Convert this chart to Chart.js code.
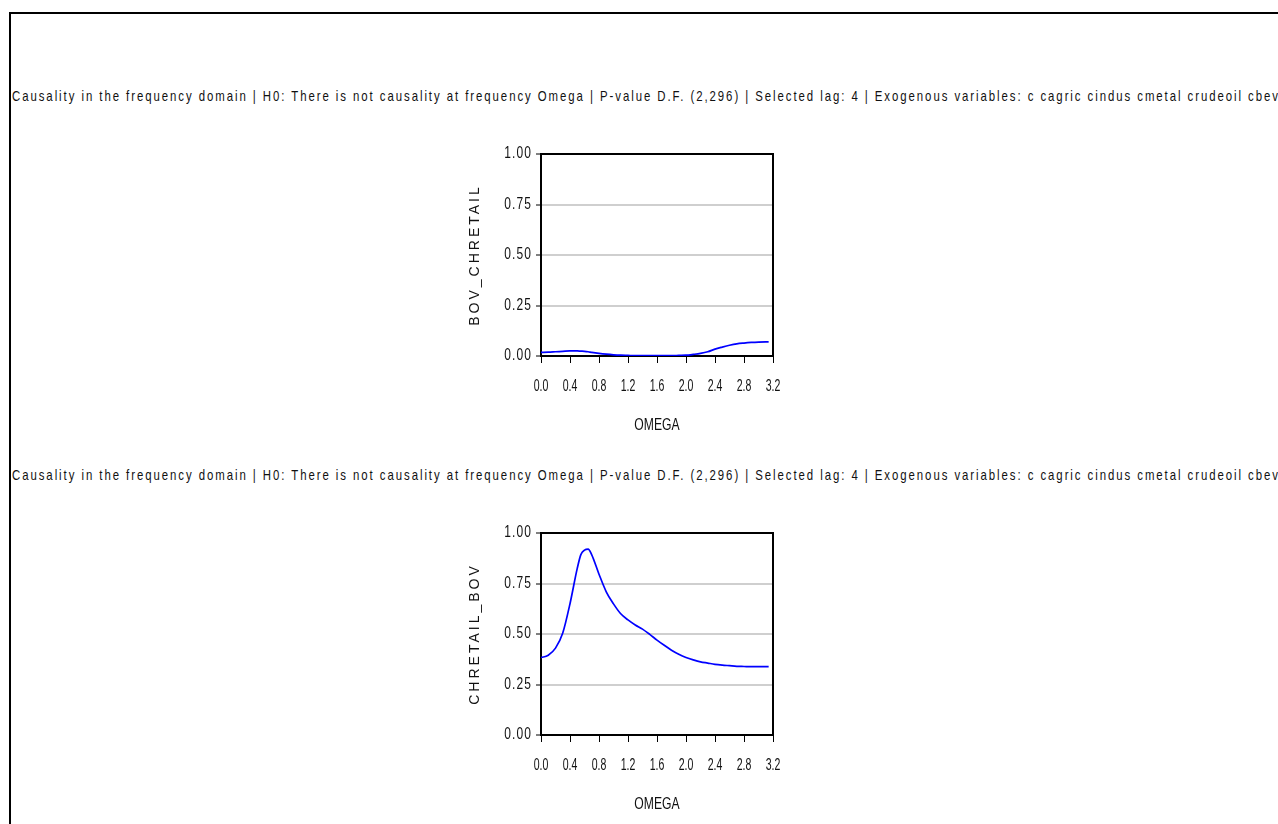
<!DOCTYPE html>
<html>
<head>
<meta charset="utf-8">
<script src="https://cdn.jsdelivr.net/npm/chart.js@4/dist/chart.umd.min.js"></script>
<style>
  html, body { margin: 0; padding: 0; background: #fff; width: 1278px; height: 824px; overflow: hidden; }
  #frame { position: absolute; left: 9px; top: 12px; width: 1400px; height: 900px; border-left: 2px solid #000; border-top: 2px solid #000; }
  .ttl { position: absolute; left: 12px; white-space: nowrap; font-family: "Liberation Sans", Arial, sans-serif; font-size: 15px; line-height: 17px; color: #111; transform-origin: 0 0; }
  .cv { position: absolute; left: 440px; width: 360px; height: 310px; }
</style>
</head>
<body>
<div id="frame"></div>
<div class="ttl" id="t1" style="top:87px"></div>
<div class="ttl" id="t2" style="top:466px"></div>
<div class="cv" style="top:130px"><canvas id="c1" width="360" height="310"></canvas></div>
<div class="cv" style="top:509px"><canvas id="c2" width="360" height="310"></canvas></div>
<script>
// ---- data ----
const headerText = "Causality in the frequency domain | H0: There is not causality at frequency Omega | P-value D.F. (2,296) | Selected lag: 4 | Exogenous variables: c cagric cindus cmetal crudeoil cbev";
const omega = [0.00,0.10,0.20,0.30,0.40,0.50,0.55,0.60,0.65,0.70,0.80,0.90,1.00,1.10,1.20,1.30,1.40,1.50,1.60,1.70,1.80,1.90,2.00,2.10,2.20,2.30,2.40,2.50,2.60,2.70,2.80,2.90,3.00,3.10,3.14];
const bovChretail = [0.018,0.019,0.021,0.023,0.025,0.025,0.024,0.023,0.021,0.018,0.013,0.009,0.006,0.004,0.003,0.002,0.002,0.002,0.002,0.002,0.002,0.003,0.004,0.008,0.013,0.021,0.034,0.044,0.053,0.060,0.064,0.067,0.069,0.070,0.070];
const chretailBov = [0.383,0.395,0.430,0.505,0.650,0.825,0.893,0.915,0.920,0.892,0.796,0.709,0.649,0.600,0.570,0.545,0.524,0.498,0.470,0.444,0.420,0.400,0.384,0.372,0.362,0.356,0.350,0.346,0.343,0.340,0.339,0.338,0.338,0.338,0.338];
const xTickLabels = ["0.0","0.4","0.8","1.2","1.6","2.0","2.4","2.8","3.2"];
const yTickLabels = ["0.00","0.25","0.50","0.75","1.00"];
const xTitle = "OMEGA";
const yTitles = ["BOV_CHRETAIL", "CHRETAIL_BOV"];

const REG = '"Liberation Sans", Arial, sans-serif';

// header lines: condensed look via horizontal scaling, spacing fitted to the width of the frame
(function () {
  const sx = 0.76, targetWidth = 1268;
  const m = document.createElement('canvas').getContext('2d');
  m.font = '15px ' + REG;
  const natural = m.measureText(headerText).width;
  const ls = (targetWidth / sx - natural) / headerText.length;
  ['t1', 't2'].forEach(id => {
    const el = document.getElementById(id);
    el.textContent = headerText;
    el.style.letterSpacing = ls.toFixed(2) + 'px';
    el.style.transform = 'scaleX(' + sx + ')';
  });
})();

// per-scale letter spacing and horizontal condensing of tick labels / titles
const spacingPlugin = {
  id: 'spacing',
  afterUpdate(chart, args, opts) {
    Object.values(chart.scales).forEach(s => {
      if (s.__sp) return;
      const cfg = (opts && opts[s.id]) || {};
      const oL = s.drawLabels, oT = s.drawTitle;
      s.drawLabels = function (a) {
        const c = this.ctx, sx = cfg.ticksScale || 1;
        const items = this.getLabelItems(a);
        const saved = items.map(it => it.options.translation[0]);
        items.forEach(it => { it.options.translation[0] = it.options.translation[0] / sx; });
        this._computeLabelArea = () => undefined;
        c.save();
        c.scale(sx, 1);
        c.letterSpacing = cfg.ticks || '0px';
        oL.call(this, a);
        c.restore();
        delete this._computeLabelArea;
        items.forEach((it, i) => { it.options.translation[0] = saved[i]; });
      };
      s.drawTitle = function (a) {
        const c = this.ctx, sx = cfg.titleScale || 1;
        const cx = (this.left + this.right) / 2;
        c.save();
        c.translate(cx * (1 - sx), 0);
        c.scale(sx, 1);
        c.letterSpacing = cfg.title || '0px';
        oT.call(this, a);
        c.restore();
      };
      s.__sp = true;
    });
  }
};

// top and right frame lines of the plot box
const boxPlugin = {
  id: 'box',
  afterDraw(chart) {
    const {ctx, chartArea: a} = chart;
    ctx.save();
    ctx.strokeStyle = '#000';
    ctx.lineWidth = 2;
    ctx.beginPath();
    ctx.moveTo(a.left - 1, a.top);
    ctx.lineTo(a.right, a.top);
    ctx.lineTo(a.right, a.bottom + 1);
    ctx.stroke();
    ctx.restore();
  }
};

function makeChart(id, values, yTitle) {
  return new Chart(document.getElementById(id), {
    type: 'line',
    data: {
      datasets: [{
        data: omega.map((x, i) => ({x: x, y: values[i]})),
        borderColor: '#0000ff',
        borderWidth: 1.7,
        pointRadius: 0,
        fill: false,
        cubicInterpolationMode: 'monotone'
      }]
    },
    options: {
      responsive: false,
      animation: false,
      events: [],
      layout: { padding: { left: 0, right: 27, top: 24, bottom: 0 } },
      plugins: {
        legend: { display: false },
        tooltip: { enabled: false },
        spacing: {
          x: { ticks: '0px', ticksScale: 0.62, title: '0px', titleScale: 0.76 },
          y: { ticks: '1.5px', ticksScale: 0.75, title: '3px', titleScale: 1 }
        }
      },
      scales: {
        x: {
          type: 'linear', min: 0, max: 3.2,
          afterFit: s => { s.height = 84; },
          afterBuildTicks: s => { s.ticks = xTickLabels.map(t => ({value: parseFloat(t)})); },
          ticks: {
            autoSkip: false, maxRotation: 0, padding: 13, color: '#111',
            font: { family: REG, size: 17 },
            callback: (v, i) => xTickLabels[i]
          },
          grid: { drawOnChartArea: false, tickLength: 7, tickColor: '#000', tickWidth: 1 },
          border: { display: true, color: '#000', width: 2 },
          title: { display: true, text: xTitle, color: '#111', font: { family: REG, size: 16 }, padding: { top: 0, bottom: 5 } }
        },
        y: {
          type: 'linear', min: 0, max: 1,
          afterFit: s => { s.width = 101; },
          afterBuildTicks: s => { s.ticks = yTickLabels.map(t => ({value: parseFloat(t)})); },
          ticks: {
            padding: 4, color: '#111',
            font: { family: REG, size: 16 },
            callback: (v, i) => yTickLabels[i]
          },
          grid: { color: '#cfcfcf', lineWidth: 2, tickLength: 5, tickColor: '#000', tickWidth: 1 },
          border: { display: true, color: '#000', width: 2 },
          title: { display: true, text: yTitle, color: '#111', font: { family: REG, size: 14 }, padding: { top: 27, bottom: 0 } }
        }
      }
    },
    plugins: [spacingPlugin, boxPlugin]
  });
}

makeChart('c1', bovChretail, yTitles[0]);
makeChart('c2', chretailBov, yTitles[1]);
</script>
</body>
</html>
